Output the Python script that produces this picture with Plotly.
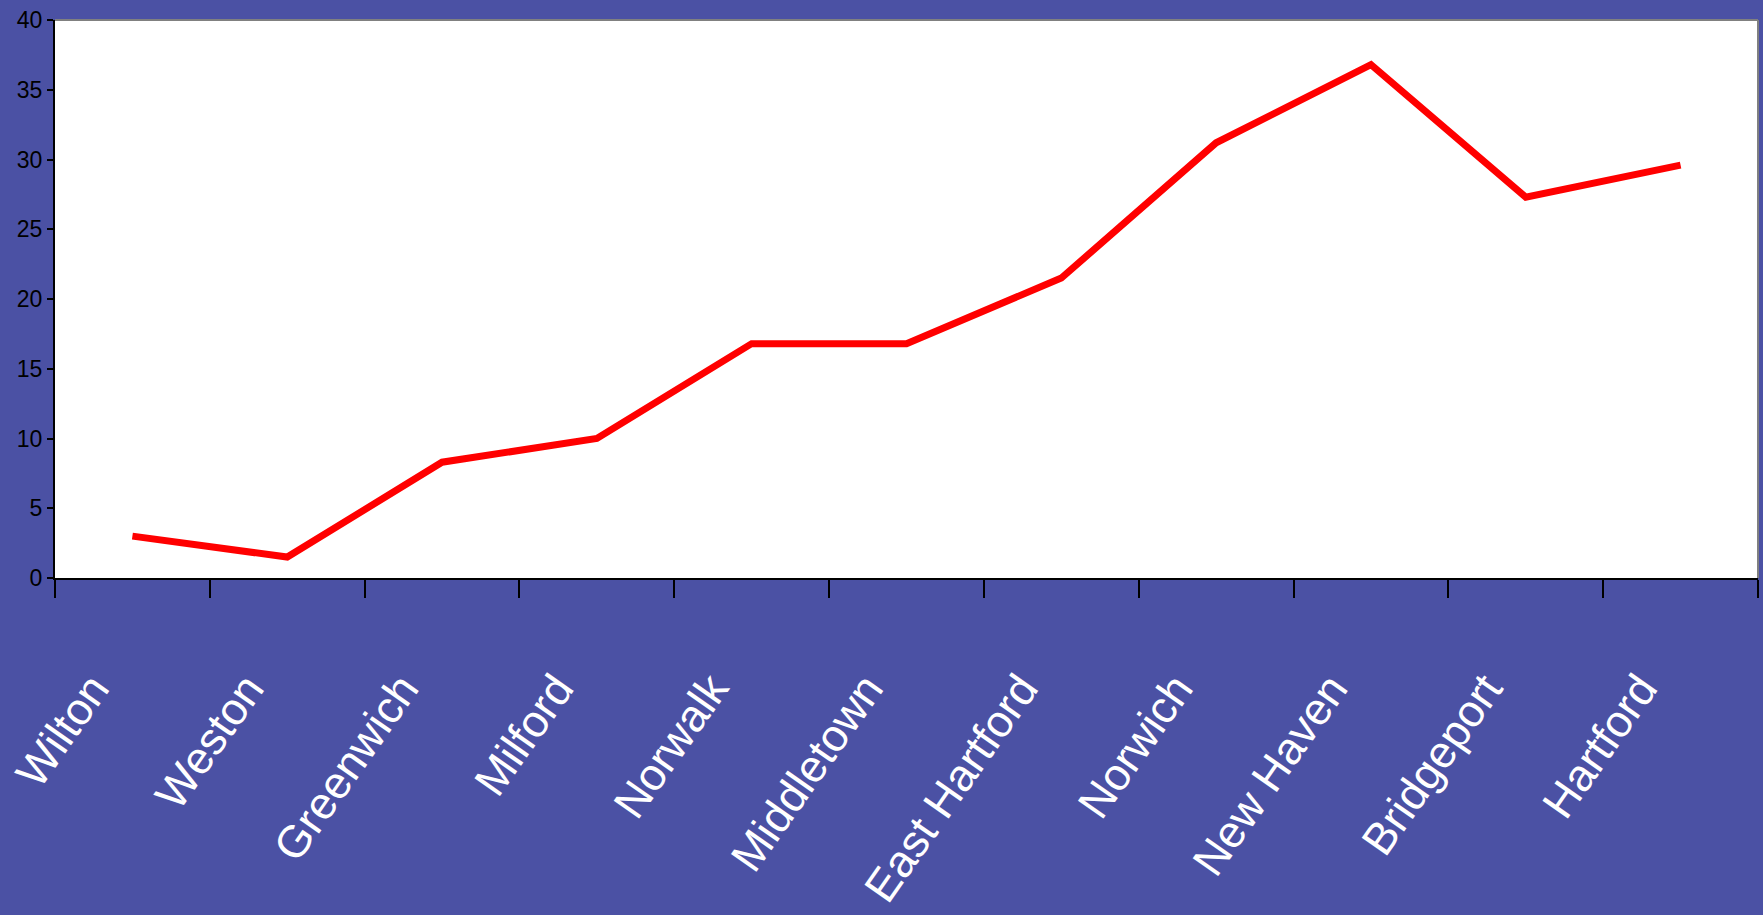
import plotly.graph_objects as go

# Connecticut towns and their values
towns = ["Wilton", "Weston", "Greenwich", "Milford", "Norwalk", "Middletown",
         "East Hartford", "Norwich", "New Haven", "Bridgeport", "Hartford"]
values = [3.0, 1.5, 8.3, 10.0, 16.8, 16.8, 21.5, 31.2, 36.8, 27.3, 29.6]
y_ticks = [0, 5, 10, 15, 20, 25, 30, 35, 40]

BG = "#4B51A4"
SANS = "Liberation Sans Narrow, Arial Narrow, Liberation Sans, Arial, sans-serif"

fig = go.Figure()
fig.add_trace(go.Scatter(
    x=towns, y=values, mode="lines",
    line=dict(color="#FF0000", width=7),
    hoverinfo="x+y",
))

fig.update_layout(
    width=1763, height=915,
    margin=dict(l=55, r=5, t=20, b=337),
    paper_bgcolor=BG,
    plot_bgcolor="white",
    showlegend=False,
    xaxis=dict(
        type="category",
        range=[-0.5, len(towns) - 0.5],
        automargin=False,
        showgrid=False, zeroline=False,
        showline=True, linecolor="black", linewidth=2,
        ticks="outside", tickson="boundaries", ticklen=18,
        tickwidth=2, tickcolor="black",
        tickangle=-55,
        tickfont=dict(family=SANS, size=45, color="white"),
        ticklabelstandoff=64,
        ticklabelshift=-40,
    ),
    yaxis=dict(
        range=[0, 40],
        tickvals=y_ticks,
        automargin=False,
        showgrid=False, zeroline=False,
        showline=True, linecolor="black", linewidth=2,
        ticks="outside", ticklen=6, tickwidth=2, tickcolor="black",
        tickfont=dict(family=SANS, size=23, color="black"),
    ),
    shapes=[
        dict(type="line", xref="paper", yref="paper", x0=0, x1=1, y0=1, y1=1,
             line=dict(color="#808080", width=2), layer="above"),
        dict(type="line", xref="paper", yref="paper", x0=1, x1=1, y0=0, y1=1,
             line=dict(color="#808080", width=2), layer="above"),
    ],
)

fig.write_html("out.html")
